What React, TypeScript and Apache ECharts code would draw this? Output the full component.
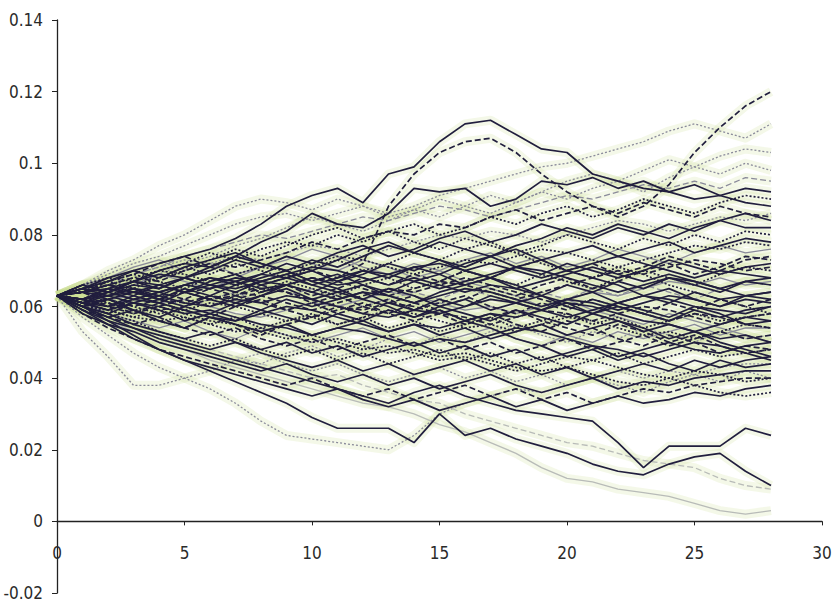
import React, { useEffect, useRef } from "react";
import * as echarts from "echarts";

// Simulated short-rate paths, 29 monthly steps each, rates in thousandths (63 = 0.063)
const steps = [0, 1, 2, 3, 4, 5, 6, 7, 8, 9, 10, 11, 12, 13, 14, 15, 16, 17, 18, 19, 20, 21, 22, 23, 24, 25, 26, 27, 28];

const r01 = [63, 65, 67, 70, 72, 74, 76, 79, 83, 88, 91, 93, 89, 97, 99, 106, 111, 112, 108, 104, 103, 97, 95, 93, 92, 90, 91, 89, 88];
const r02 = [63, 64, 62, 60, 62, 64, 65, 63, 66, 68, 70, 68, 72, 88, 97, 103, 106, 107, 103, 97, 92, 88, 85, 88, 94, 103, 110, 116, 120];
const r03 = [63, 66, 69, 72, 74, 77, 80, 83, 85, 86, 84, 86, 88, 86, 88, 91, 93, 95, 97, 99, 100, 102, 104, 106, 109, 111, 109, 107, 111];
const r04 = [63, 65, 67, 66, 69, 72, 74, 77, 79, 82, 85, 83, 81, 84, 87, 85, 88, 91, 89, 92, 95, 97, 95, 98, 101, 99, 102, 104, 103];
const r05 = [63, 66, 64, 67, 70, 72, 71, 74, 78, 81, 86, 83, 82, 86, 93, 92, 93, 88, 90, 95, 94, 96, 93, 95, 92, 94, 91, 93, 92];
const r06 = [63, 64, 66, 68, 67, 70, 72, 71, 73, 75, 78, 76, 79, 81, 80, 83, 82, 85, 87, 84, 86, 88, 86, 89, 87, 85, 88, 86, 85];
const r07 = [63, 61, 64, 66, 65, 68, 70, 73, 71, 74, 72, 75, 77, 74, 76, 79, 81, 78, 80, 83, 81, 79, 82, 80, 83, 81, 84, 82, 82];
const r08 = [63, 65, 63, 66, 68, 71, 69, 72, 70, 68, 71, 73, 70, 72, 75, 73, 76, 78, 75, 77, 80, 78, 76, 79, 77, 80, 78, 81, 80];
const r09 = [63, 62, 65, 63, 66, 64, 67, 69, 66, 68, 70, 67, 69, 72, 70, 73, 71, 74, 76, 73, 75, 77, 74, 76, 78, 75, 77, 79, 78];
const r10 = [63, 66, 68, 71, 73, 70, 72, 69, 71, 74, 72, 70, 73, 71, 68, 70, 73, 75, 72, 74, 71, 73, 76, 74, 72, 75, 77, 75, 76];
const r11 = [63, 61, 59, 62, 64, 62, 65, 67, 64, 66, 63, 65, 68, 66, 69, 67, 70, 68, 71, 73, 70, 72, 69, 71, 74, 72, 70, 73, 74];
const r12 = [63, 64, 66, 64, 62, 65, 63, 66, 68, 70, 67, 69, 66, 64, 67, 69, 66, 68, 71, 69, 72, 70, 68, 70, 73, 71, 69, 71, 72];
const r13 = [63, 65, 67, 69, 67, 65, 68, 66, 64, 67, 65, 63, 66, 68, 65, 67, 70, 68, 66, 69, 67, 65, 68, 70, 68, 66, 69, 71, 70];
const r14 = [63, 62, 60, 63, 61, 64, 62, 60, 63, 65, 62, 64, 66, 63, 61, 64, 66, 68, 65, 63, 66, 64, 67, 65, 68, 66, 64, 67, 68];
const r15 = [63, 64, 62, 61, 63, 60, 62, 64, 61, 63, 65, 63, 60, 62, 64, 62, 65, 63, 61, 64, 62, 65, 63, 66, 64, 62, 65, 67, 66];
const r16 = [63, 61, 63, 65, 62, 60, 63, 61, 59, 62, 60, 62, 64, 61, 59, 62, 60, 63, 61, 59, 62, 64, 61, 63, 61, 64, 62, 63, 64];
const r17 = [63, 62, 60, 58, 61, 59, 57, 60, 62, 59, 61, 58, 60, 62, 59, 61, 63, 60, 58, 61, 59, 62, 60, 58, 61, 59, 62, 60, 62];
const r18 = [63, 60, 58, 61, 59, 56, 58, 56, 59, 57, 55, 58, 56, 59, 57, 60, 58, 56, 59, 57, 55, 58, 60, 58, 56, 59, 57, 59, 60];
const r19 = [63, 61, 59, 57, 59, 57, 55, 57, 54, 56, 58, 55, 57, 54, 56, 53, 55, 57, 54, 56, 58, 55, 57, 54, 56, 58, 56, 57, 58];
const r20 = [63, 60, 57, 59, 56, 54, 57, 55, 53, 55, 52, 54, 56, 53, 55, 52, 54, 51, 53, 55, 52, 54, 56, 53, 55, 53, 55, 57, 56];
const r21 = [63, 61, 58, 56, 54, 56, 53, 51, 54, 52, 50, 52, 54, 51, 53, 50, 52, 54, 51, 49, 52, 50, 53, 51, 53, 55, 52, 54, 54];
const r22 = [63, 59, 57, 55, 57, 54, 52, 54, 51, 49, 51, 48, 50, 52, 49, 51, 48, 50, 47, 49, 51, 48, 50, 52, 49, 51, 53, 51, 52];
const r23 = [63, 60, 58, 55, 53, 51, 53, 50, 48, 50, 47, 49, 46, 48, 50, 47, 49, 46, 48, 45, 47, 49, 46, 48, 50, 48, 47, 49, 50];
const r24 = [63, 61, 58, 56, 53, 51, 49, 51, 48, 46, 48, 45, 47, 44, 46, 48, 45, 47, 44, 46, 43, 45, 47, 44, 46, 48, 46, 47, 48];
const r25 = [63, 59, 56, 54, 52, 50, 48, 50, 47, 45, 43, 45, 42, 44, 41, 43, 45, 42, 44, 41, 43, 40, 42, 44, 42, 45, 43, 45, 46];
const r26 = [63, 60, 57, 54, 51, 49, 47, 45, 47, 44, 42, 44, 41, 39, 41, 43, 40, 42, 39, 41, 38, 40, 42, 40, 42, 41, 43, 44, 44];
const r27 = [63, 58, 55, 53, 50, 48, 46, 44, 42, 44, 41, 39, 41, 38, 40, 37, 39, 41, 38, 36, 38, 40, 37, 39, 38, 40, 41, 42, 42];
const r28 = [63, 58, 54, 51, 48, 46, 44, 42, 40, 38, 40, 37, 35, 37, 34, 36, 38, 35, 37, 34, 36, 33, 35, 37, 36, 38, 39, 40, 40];
const r29 = [63, 59, 55, 51, 48, 45, 43, 41, 39, 37, 35, 37, 34, 32, 34, 31, 33, 35, 32, 34, 31, 33, 35, 33, 34, 36, 35, 37, 38];
const r30 = [63, 57, 52, 47, 43, 40, 37, 33, 28, 24, 23, 22, 21, 20, 24, 30, 33, 35, 37, 36, 38, 40, 38, 36, 39, 41, 39, 42, 40];
const r31 = [63, 60, 56, 52, 48, 45, 42, 39, 36, 33, 29, 26, 26, 26, 22, 30, 24, 26, 23, 21, 19, 16, 14, 13, 16, 18, 19, 14, 10];
const r32 = [63, 60, 57, 54, 51, 49, 47, 45, 43, 41, 39, 37, 35, 33, 36, 38, 35, 33, 31, 30, 29, 28, 22, 15, 21, 21, 21, 26, 24];
const r33 = [63, 59, 56, 53, 50, 48, 45, 43, 41, 39, 37, 35, 33, 32, 30, 27, 25, 22, 19, 15, 12, 11, 9, 8, 7, 5, 3, 2, 3];
const r34 = [63, 60, 58, 55, 53, 50, 48, 46, 44, 42, 40, 41, 38, 36, 34, 33, 30, 28, 26, 24, 22, 21, 19, 17, 16, 15, 12, 10, 9];
const r35 = [63, 53, 46, 38, 38, 40, 42, 45, 44, 47, 49, 46, 48, 51, 49, 52, 50, 53, 55, 52, 50, 53, 51, 54, 52, 50, 53, 51, 52];
const r36 = [63, 66, 64, 67, 65, 68, 66, 64, 67, 69, 66, 64, 62, 65, 63, 60, 62, 59, 61, 63, 60, 58, 61, 59, 57, 60, 58, 55, 56];
const r37 = [63, 64, 67, 69, 72, 74, 71, 69, 66, 64, 61, 63, 60, 58, 61, 59, 56, 58, 55, 53, 56, 54, 51, 49, 52, 50, 47, 49, 48];
const r38 = [63, 65, 68, 70, 68, 71, 73, 75, 72, 70, 67, 65, 62, 60, 57, 59, 56, 54, 51, 49, 46, 48, 45, 47, 44, 42, 45, 43, 44];
const r39 = [63, 62, 64, 66, 69, 67, 65, 68, 71, 73, 76, 74, 71, 69, 72, 70, 67, 65, 63, 60, 62, 59, 57, 55, 58, 56, 54, 52, 50];
const r40 = [63, 61, 59, 61, 63, 66, 68, 66, 69, 72, 70, 73, 76, 78, 75, 73, 70, 68, 66, 63, 61, 58, 56, 54, 51, 53, 50, 48, 46];
const r41 = [63, 65, 67, 65, 68, 70, 73, 76, 74, 77, 80, 82, 79, 81, 78, 76, 79, 77, 75, 72, 70, 68, 71, 69, 66, 64, 62, 60, 58];
const r42 = [63, 60, 62, 59, 57, 60, 58, 61, 63, 66, 64, 67, 70, 68, 71, 69, 72, 74, 71, 73, 70, 68, 66, 63, 65, 62, 60, 63, 62];
const r43 = [63, 64, 61, 59, 56, 54, 57, 55, 52, 55, 57, 60, 58, 61, 63, 60, 62, 65, 63, 66, 68, 65, 67, 70, 72, 69, 71, 74, 73];
const r44 = [63, 66, 70, 73, 77, 80, 84, 88, 90, 89, 87, 90, 88, 85, 87, 90, 88, 86, 89, 92, 90, 93, 95, 92, 96, 99, 97, 100, 98];
const r45 = [63, 66, 68, 67, 70, 72, 75, 73, 76, 78, 77, 80, 78, 81, 83, 80, 82, 85, 83, 86, 88, 85, 87, 90, 88, 86, 89, 91, 90];
const r46 = [63, 62, 64, 67, 69, 68, 71, 74, 72, 70, 73, 71, 74, 77, 75, 78, 76, 74, 77, 79, 82, 80, 83, 81, 79, 82, 84, 86, 84];
const r47 = [63, 60, 61, 58, 60, 62, 60, 63, 61, 59, 57, 59, 61, 58, 56, 58, 55, 57, 59, 56, 54, 52, 55, 53, 50, 52, 49, 47, 48];
const r48 = [63, 64, 63, 65, 64, 66, 68, 67, 65, 66, 64, 62, 64, 63, 61, 63, 65, 64, 62, 60, 62, 61, 59, 61, 63, 62, 60, 62, 61];
const r49 = [63, 61, 62, 60, 58, 59, 61, 60, 58, 56, 57, 55, 57, 59, 58, 56, 54, 55, 53, 55, 57, 56, 54, 52, 53, 51, 53, 55, 54];
const r50 = [63, 65, 64, 62, 64, 66, 65, 67, 69, 68, 66, 68, 70, 69, 67, 65, 67, 69, 71, 70, 68, 66, 64, 66, 68, 67, 65, 63, 64];
const r51 = [63, 62, 65, 64, 62, 61, 63, 62, 64, 66, 68, 67, 65, 63, 65, 67, 66, 64, 62, 64, 66, 68, 70, 69, 71, 73, 72, 70, 71];
const r52 = [63, 64, 62, 63, 61, 62, 60, 58, 57, 59, 61, 60, 62, 64, 63, 61, 59, 60, 58, 60, 62, 64, 63, 65, 67, 66, 68, 66, 67];
const r53 = [63, 61, 60, 62, 61, 59, 57, 56, 58, 60, 59, 57, 55, 53, 55, 54, 56, 58, 57, 59, 61, 60, 58, 56, 55, 53, 51, 52, 50];
const r54 = [63, 65, 66, 68, 70, 69, 67, 69, 71, 70, 72, 74, 73, 71, 69, 71, 73, 72, 74, 76, 75, 73, 71, 73, 75, 77, 76, 78, 77];
const r55 = [63, 62, 63, 61, 60, 58, 59, 57, 55, 54, 52, 54, 53, 51, 49, 51, 50, 52, 54, 53, 51, 49, 48, 46, 48, 50, 49, 47, 45];
const r56 = [63, 64, 66, 65, 63, 64, 62, 63, 65, 64, 62, 60, 59, 61, 60, 58, 57, 55, 57, 59, 58, 56, 58, 60, 59, 57, 55, 57, 58];
const r57 = [63, 66, 67, 69, 71, 73, 72, 74, 73, 75, 77, 76, 74, 76, 78, 80, 79, 81, 80, 78, 80, 82, 84, 83, 81, 83, 85, 84, 86];
const r58 = [63, 61, 62, 64, 63, 61, 60, 62, 61, 63, 62, 60, 58, 57, 59, 58, 60, 62, 61, 59, 57, 59, 61, 63, 62, 60, 59, 58, 60];
const r59 = [63, 62, 61, 59, 60, 58, 56, 55, 53, 51, 52, 50, 48, 49, 47, 45, 46, 44, 42, 44, 46, 45, 43, 41, 40, 42, 41, 39, 40];
const r60 = [63, 64, 65, 67, 66, 64, 66, 68, 67, 69, 71, 70, 68, 66, 68, 66, 64, 66, 65, 67, 69, 71, 69, 67, 69, 67, 65, 67, 66];
const r61 = [63, 62, 60, 61, 59, 60, 62, 64, 63, 61, 59, 61, 63, 65, 64, 66, 68, 66, 64, 62, 60, 62, 60, 58, 56, 58, 57, 55, 54];
const r62 = [63, 65, 63, 64, 66, 68, 66, 65, 67, 66, 68, 66, 67, 69, 71, 72, 70, 72, 70, 68, 70, 72, 74, 72, 70, 68, 70, 69, 68];
const r63 = [63, 60, 59, 57, 56, 57, 55, 53, 54, 52, 50, 51, 49, 47, 48, 46, 47, 45, 43, 42, 43, 41, 39, 38, 40, 38, 36, 35, 36];
const r64 = [63, 64, 66, 69, 71, 74, 76, 78, 80, 79, 81, 83, 85, 84, 86, 88, 87, 85, 87, 89, 91, 90, 92, 94, 93, 95, 93, 96, 95];

const paths = [
  r01, r02, r03, r04, r05, r06, r07, r08, r09, r10, r11, r12, r13, r14, r15, r16,
  r17, r18, r19, r20, r21, r22, r23, r24, r25, r26, r27, r28, r29, r30, r31, r32,
  r33, r34, r35, r36, r37, r38, r39, r40, r41, r42, r43, r44, r45, r46, r47, r48,
  r49, r50, r51, r52, r53, r54, r55, r56, r57, r58, r59, r60, r61, r62, r63, r64,
];

const xTicks = [0, 5, 10, 15, 20, 25, 30];
const yTicks = [-0.02, 0, 0.02, 0.04, 0.06, 0.08, 0.1, 0.12, 0.14];

// Stroke look of each path, in the same order as `paths`
const looks = [
  "dark-solid", "dark-dash", "grey-dot", "grey-dot", "dark-solid", "dark-dash", "dark-solid", "dark-dot",
  "dark-solid", "grey-solid", "dark-dash", "dark-solid", "dark-dot", "dark-solid", "grey-dash", "dark-solid",
  "dark-dash", "dark-solid", "dark-dot", "dark-solid", "grey-solid", "dark-dash", "dark-solid", "dark-dot",
  "dark-solid", "grey-dot", "dark-solid", "dark-dash", "dark-solid", "grey-dot", "dark-solid", "dark-solid",
  "pale-solid", "pale-dash", "grey-dot", "dark-solid", "dark-dash", "dark-solid", "grey-solid", "dark-solid",
  "dark-dot", "dark-solid", "dark-dash", "grey-dot", "dark-dot", "dark-solid", "dark-dash", "dark-solid",
  "dark-dot", "dark-solid", "dark-dash", "grey-solid", "dark-solid", "dark-dot", "dark-solid", "dark-dash",
  "grey-dot", "dark-solid", "dark-dot", "dark-solid", "dark-dash", "dark-solid", "dark-dot", "grey-dash",
];

const inkOf: Record<string, string> = { dark: "#211e3e", grey: "#8a8a9a", pale: "#b8bbb8" };
const dashOf: Record<string, any> = { solid: "solid", dash: [6, 3], dot: [2, 2] };

const FONT = "'Liberation Sans Narrow', 'DejaVu Sans Condensed', 'Arial Narrow', sans-serif";

// Distance of the zero line above the grid's bottom edge: (0 - min) / (max - min) of the plot height
const PLOT_HEIGHT = 606 - 20 - 13;
const ZERO_LIFT = (PLOT_HEIGHT * (0 - yTicks[0])) / (yTicks[yTicks.length - 1] - yTicks[0]);

export default function App() {
  const ref = useRef<HTMLDivElement>(null);

  useEffect(() => {
    if (!ref.current) return;
    const chart = echarts.init(ref.current, undefined, { renderer: "svg" });

    const pts = (p: number[]) => p.map((v, i) => [steps[i], v / 1000]);

    // pale yellow-green wash that builds up where the paths crowd together
    const haze = paths.map((p) => ({
      type: "line",
      data: pts(p),
      symbol: "none",
      silent: true,
      z: 1,
      lineStyle: { color: "rgba(206,221,152,0.22)", width: 9, cap: "butt", join: "round" },
    }));

    const strokes = paths.map((p, i) => {
      const [ink, dash] = looks[i].split("-");
      return {
        type: "line",
        data: pts(p),
        symbol: "none",
        silent: true,
        z: ink === "dark" ? 4 : 3,
        lineStyle: { color: inkOf[ink], width: ink === "dark" ? 1.7 : 1.3, type: dashOf[dash] },
      };
    });

    chart.setOption({
      animation: false,
      backgroundColor: "#ffffff",
      grid: { left: 57, right: 11, top: 20, bottom: 13, containLabel: false, outerBoundsMode: "none" },
      xAxis: {
        type: "value",
        min: xTicks[0],
        max: xTicks[xTicks.length - 1],
        interval: 5,
        offset: -ZERO_LIFT,
        axisLine: { onZero: false, lineStyle: { color: "#222", width: 1.3 } },
        axisTick: { show: true, length: 4, lineStyle: { color: "#222" } },
        axisLabel: { margin: 23, color: "#2a2a2a", fontFamily: FONT, fontSize: 17 },
        splitLine: { show: false },
      },
      yAxis: {
        type: "value",
        min: yTicks[0],
        max: yTicks[yTicks.length - 1],
        interval: 0.02,
        axisLine: { show: true, onZero: false, lineStyle: { color: "#222", width: 1.3 } },
        axisTick: { show: true, length: 5, lineStyle: { color: "#222" } },
        axisLabel: { margin: 14, color: "#2a2a2a", fontFamily: FONT, fontSize: 17 },
        splitLine: { show: false },
      },
      series: [...haze, ...strokes],
    });

    return () => chart.dispose();
  }, []);

  return (
    <div
      ref={ref}
      style={{ position: "fixed", left: 0, top: 0, width: 833, height: 606, background: "#fff" }}
    />
  );
}
